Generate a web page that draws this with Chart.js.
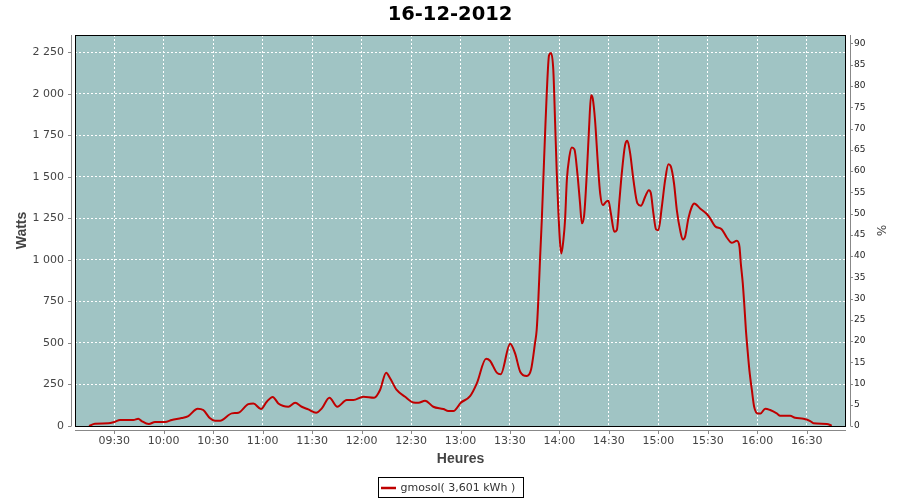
<!DOCTYPE html>
<html>
<head>
<meta charset="utf-8">
<title>16-12-2012</title>
<script src="https://cdn.jsdelivr.net/npm/chart.js@4/dist/chart.umd.min.js"></script>
<style>
  html, body { margin: 0; padding: 0; background: #fff; }
  canvas { display: block; }
</style>
</head>
<body>
<canvas id="prod" width="900" height="500"></canvas>
<script>
// readings of the day, time in minutes since midnight
var minutes = [
  554.7, 558.3, 566.4, 570.5, 573.5, 581.6, 584.6, 586.6, 591, 594.7,
  600.8, 604.9, 610.9, 614.9, 620.6, 624, 628.1, 631.1, 634.2, 641.3,
  645.3, 651.3, 654.4, 659, 662.5, 666.1, 669.5, 672.6, 675.6, 679.7,
  683.7, 687.7, 692.4, 695.9, 700.5, 705.3, 711, 715, 721.1, 727.6,
  731.2, 734.9, 737.3, 741.3, 746.4, 751.4, 754.5, 758.5, 763.5, 769.6,
  772.6, 775.7, 780.2, 785.8, 789.9, 795.5, 797.9, 802, 804.4, 810.1,
  813.1, 816.2, 820.2, 822.8, 825.2, 826.2, 827.2, 828.3, 829.3, 830.3,
  831.3, 832.3, 833.7, 834.9, 836.3, 837.4, 838.4, 839.4, 840.4, 841.2,
  842.4, 843.4, 844.5, 846, 847.5, 849.1, 850.9, 852.5, 853.6, 855,
  856.6, 858, 859.2, 860.2, 861.6, 863.3, 864.7, 866.3, 868.3, 869.7,
  871.2, 873.3, 874.8, 876.4, 877.8, 879.8, 881.2, 882.9, 884.9, 887.3,
  889.4, 892, 894.2, 895.4, 897, 898.6, 900, 902.1, 904.1, 906.1,
  907.5, 909.5, 911.2, 913.2, 914.8, 916.2, 918.2, 920.3, 921.7, 925.3,
  929.4, 931.4, 934.4, 938.5, 941.5, 944.5, 947.6, 949.2, 950, 951.2,
  952.2, 953.1, 954.1, 955.2, 956.7, 958.1, 960.3, 962, 964.8, 967.8,
  971.8, 973.9, 979.9, 982.9, 988, 992.1, 994.1, 1002.2, 1005.2
];
var watts = [
  0, 14, 16, 26, 36, 36, 44, 30, 12, 24,
  24, 36, 48, 60, 104, 96, 46, 32, 32, 76,
  80, 132, 136, 102, 146, 175, 136, 120, 116, 140,
  116, 100, 80, 106, 170, 116, 156, 156, 176, 170,
  217, 321, 287, 217, 176, 142, 140, 152, 116, 102,
  90, 90, 140, 180, 257, 405, 393, 321, 311, 495,
  437, 327, 301, 340, 500, 578, 758, 1019, 1239, 1500,
  1761, 2002, 2232, 2246, 2142, 1821, 1520, 1280, 1099, 1039,
  1119, 1239, 1480, 1620, 1677, 1665, 1520, 1340, 1220, 1270,
  1520, 1801, 1992, 1972, 1841, 1581, 1400, 1330, 1350, 1356,
  1280, 1169, 1179, 1360, 1520, 1691, 1717, 1641, 1480, 1340,
  1326, 1380, 1420, 1404, 1280, 1184, 1179, 1320, 1480, 1576,
  1564, 1460, 1300, 1179, 1123, 1139, 1250, 1320, 1340, 1310,
  1276, 1250, 1203, 1183, 1135, 1103, 1115, 1079, 979, 859,
  718, 578, 457, 337, 217, 116, 76, 76, 104, 96,
  76, 62, 62, 50, 44, 30, 16, 12, 2
];

var hourTicks = [570, 600, 630, 660, 690, 720, 750, 780, 810, 840, 870, 900, 930, 960, 990];
var wattTicks = [0, 250, 500, 750, 1000, 1250, 1500, 1750, 2000, 2250];
var pctTicks = [0, 5, 10, 15, 20, 25, 30, 35, 40, 45, 50, 55, 60, 65, 70, 75, 80, 85, 90];

var dayTitle = '16-12-2012';
var seriesName = 'gmosol( 3,601 kWh )';

var plotColor = '#a0c4c4';
var lineColor = '#bf0000';
var axisColor = '#888888';
var textColor = '#444444';

Chart.defaults.font.family = 'DejaVu Sans';

function two(n) {
  return (n < 10 ? '0' : '') + n;
}

function hhmm(v) {
  return two(Math.floor(v / 60)) + ':' + two(Math.round(v % 60));
}

function spaced(v) {
  if (v < 1000) return String(v);
  var r = v % 1000;
  return Math.floor(v / 1000) + ' ' + (r < 10 ? '00' : r < 100 ? '0' : '') + r;
}

// plot background, frame, offset axis lines and boxed legend
var framePlugin = {
  id: 'frame',
  beforeDraw: function (chart) {
    var a = chart.chartArea;
    var ctx = chart.ctx;
    ctx.save();
    ctx.fillStyle = '#ffffff';
    ctx.fillRect(0, 0, chart.width, chart.height);
    ctx.fillStyle = plotColor;
    ctx.fillRect(a.left, a.top, a.right - a.left, a.bottom - a.top);
    ctx.restore();
  },
  afterDraw: function (chart) {
    var a = chart.chartArea;
    var ctx = chart.ctx;
    var sx = chart.scales.x, sy = chart.scales.y, sp = chart.scales.y1;
    ctx.save();

    ctx.strokeStyle = '#000000';
    ctx.lineWidth = 1;
    ctx.strokeRect(a.left + 0.5, a.top + 0.5, a.right - a.left - 1, a.bottom - a.top);

    ctx.strokeStyle = axisColor;
    ctx.beginPath();
    ctx.moveTo(a.left - 3.5, a.top);
    ctx.lineTo(a.left - 3.5, a.bottom);
    ctx.moveTo(a.right + 4.5, a.top);
    ctx.lineTo(a.right + 4.5, a.bottom);
    ctx.moveTo(a.left, a.bottom + 4.5);
    ctx.lineTo(a.right, a.bottom + 4.5);
    wattTicks.forEach(function (v) {
      var y = Math.round(sy.getPixelForValue(v)) + 0.5;
      ctx.moveTo(a.left - 7, y);
      ctx.lineTo(a.left - 3.5, y);
    });
    pctTicks.forEach(function (v) {
      var y = Math.round(sp.getPixelForValue(v)) + 0.5;
      ctx.moveTo(a.right + 4.5, y);
      ctx.lineTo(a.right + 7, y);
    });
    hourTicks.forEach(function (v) {
      var x = Math.round(sx.getPixelForValue(v)) + 0.5;
      ctx.moveTo(x, a.bottom + 4.5);
      ctx.lineTo(x, a.bottom + 8);
    });
    ctx.stroke();

    // legend
    var ds = chart.data.datasets[0];
    ctx.font = '11px "DejaVu Sans"';
    var tw = ctx.measureText(ds.label).width;
    var w = 4 + 15 + 5 + tw + 6;
    var h = 20;
    var bx = Math.round(chart.width / 2 - w / 2) + 0.5;
    var by = 477.5;
    ctx.strokeStyle = '#000000';
    ctx.strokeRect(bx, by, Math.round(w), h);
    ctx.strokeStyle = ds.borderColor;
    ctx.lineWidth = 2.5;
    ctx.beginPath();
    ctx.moveTo(bx + 2.5, by + 10.5);
    ctx.lineTo(bx + 17.5, by + 10.5);
    ctx.stroke();
    ctx.fillStyle = '#333333';
    ctx.textBaseline = 'middle';
    ctx.textAlign = 'left';
    ctx.fillText(ds.label, bx + 22, by + 11);
    ctx.restore();
  }
};

var ctx = document.getElementById('prod').getContext('2d');
var chart = new Chart(ctx, {
  type: 'line',
  data: {
    datasets: [{
      label: seriesName,
      data: minutes.map(function (t, i) { return { x: t, y: watts[i] }; }),
      borderColor: lineColor,
      borderWidth: 2,
      pointRadius: 0,
      fill: false,
      cubicInterpolationMode: 'monotone',
      yAxisID: 'y'
    }]
  },
  options: {
    responsive: false,
    animation: false,
    layout: { padding: 0 },
    plugins: {
      legend: { display: false },
      tooltip: { enabled: false },
      title: {
        display: true,
        text: dayTitle,
        color: '#000000',
        font: { size: 19.5, weight: 'bold' },
        padding: { top: 3.5, bottom: 8.1 }
      }
    },
    scales: {
      x: {
        type: 'linear',
        position: 'bottom',
        min: 546.2,
        max: 1013.8,
        afterBuildTicks: function (s) {
          s.ticks = hourTicks.map(function (v) { return { value: v }; });
        },
        afterFit: function (s) { s.height = 74; },
        ticks: {
          color: textColor,
          font: { size: 11 },
          padding: 9,
          maxRotation: 0,
          autoSkip: false,
          callback: function (v) { return hhmm(v); }
        },
        grid: { color: '#ffffff', lineWidth: 1, drawTicks: false },
        border: { display: false, dash: [2, 2] },
        title: {
          display: true,
          text: 'Heures',
          color: textColor,
          font: { family: 'Liberation Sans', size: 14, weight: 'bold' },
          padding: { top: 0, bottom: 32 }
        }
      },
      y: {
        type: 'linear',
        position: 'left',
        min: 0,
        max: 2354,
        afterBuildTicks: function (s) {
          s.ticks = wattTicks.map(function (v) { return { value: v }; });
        },
        afterFit: function (s) { s.width = 75; },
        ticks: {
          color: textColor,
          font: { size: 11 },
          padding: 11,
          callback: function (v) { return spaced(v); }
        },
        grid: { color: '#ffffff', lineWidth: 1, drawTicks: false },
        border: { display: false, dash: [2, 2] },
        title: {
          display: true,
          text: 'Watts',
          color: textColor,
          font: { family: 'Liberation Sans', size: 14, weight: 'bold' },
          padding: { top: 13.6, bottom: 0 }
        }
      },
      y1: {
        type: 'linear',
        position: 'right',
        min: 0,
        max: 92,
        afterBuildTicks: function (s) {
          s.ticks = pctTicks.map(function (v) { return { value: v }; });
        },
        afterFit: function (s) { s.width = 54; },
        ticks: {
          color: '#222222',
          font: { size: 9 },
          padding: 8
        },
        grid: { display: false, drawTicks: false },
        border: { display: false },
        title: {
          display: true,
          text: '%',
          color: textColor,
          font: { size: 12 },
          padding: { top: 12.8, bottom: 0 }
        }
      }
    }
  },
  plugins: [framePlugin]
});
</script>
</body>
</html>
